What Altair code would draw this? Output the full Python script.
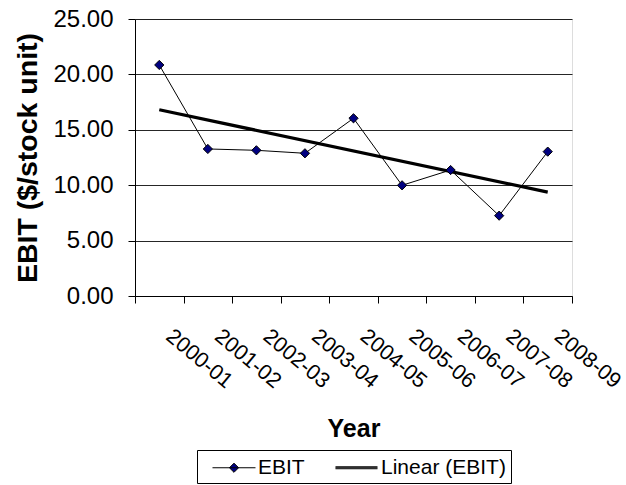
import json
import altair as alt
import pandas as pd

years = ["2000-01", "2001-02", "2002-03", "2003-04", "2004-05",
         "2005-06", "2006-07", "2007-08", "2008-09"]
ebit = [20.85, 13.27, 13.15, 12.88, 16.04, 9.99, 11.37, 7.25, 13.03]
series_names = ["EBIT", "Linear (EBIT)"]
y_ticks = [0, 5, 10, 15, 20, 25]

df = pd.DataFrame({"year": years, "ebit": ebit, "idx": list(range(len(years)))})
leg_df = pd.DataFrame({"series": series_names})

FONT = "Liberation Sans"

x_scale = alt.Scale(type="band", domain=years, paddingInner=0, paddingOuter=0)
x_axis = alt.Axis(
    title="Year", titleFontSize=25, titleFontWeight="bold", titleFont=FONT,
    titleColor="black", titleBaseline="alphabetic", titleY=140,
    labelFont=FONT, labelFontSize=21.5, labelColor="black",
    labelAngle=40, labelAlign="left", labelBaseline="top",
    labelOffset=16, labelPadding=22,
    tickBand="extent", tickSize=7, tickColor="black",
    domainColor="black", grid=False, labelOverlap=False,
)
y_axis = alt.Axis(
    title="EBIT ($/stock unit)", titleFontSize=28.5, titleFontWeight="bold",
    titleFont=FONT, titleColor="black", titleX=-108, titleBaseline="middle",
    values=y_ticks, format=".2f", labelFont=FONT, labelFontSize=24,
    labelColor="black", labelPadding=15, tickSize=7, tickColor="black",
    domainColor="black", gridColor="black", gridOpacity=0.85,
)

x_enc = alt.X("year:N", scale=x_scale, axis=x_axis)
y_enc = alt.Y("ebit:Q", scale=alt.Scale(domain=[0, 25], nice=False), axis=y_axis)

line = alt.Chart(df).mark_line(color="black", strokeWidth=1).encode(x=x_enc, y=y_enc)
pts = alt.Chart(df).mark_point(
    shape="diamond", filled=True, fill="#000080", stroke="black",
    strokeWidth=1, size=85, opacity=1,
).encode(x=x_enc, y=y_enc)

arr = json.dumps(years)
trend = alt.Chart(df).transform_regression(
    "idx", "ebit", method="linear"
).transform_calculate(year=f"{arr}[round(datum.idx)]").mark_line(
    color="black", strokeWidth=3.2
).encode(x=x_enc, y=y_enc)

# legend symbols (custom paths: line with diamond, thick line)
r = 12.0
x0 = -1 + 10 / r
x1 = x0 + 43 / r
xc = x0 + 21.5 / r
d = 4.6 / r
path_ebit = (f"M{x0:.3f},0H{x1:.3f}"
             f"M{xc:.3f},{-d:.3f}L{xc + d:.3f},0L{xc:.3f},{d:.3f}L{xc - d:.3f},0Z")
t = 1 / r
x1b = x0 + 42 / r
path_lin = (f"M{x0:.3f},{-t:.3f}H{x1b:.3f}M{x0:.3f},0H{x1b:.3f}"
            f"M{x0:.3f},{t:.3f}H{x1b:.3f}")


def make_legend():
    return alt.Legend(
        title=None, orient="none", legendX=62, legendY=431,
        direction="horizontal", symbolSize=r * r * 4,
        symbolStrokeWidth=1, symbolOpacity=1,
        labelFont=FONT, labelFontSize=21, labelColor="black",
        labelOffset=31, columnPadding=20, padding=5,
        strokeColor="black", fillColor="white",
    )


legend_layer = alt.Chart(leg_df).mark_point(
    filled=True, strokeWidth=1, clip=True, opacity=1, size=r * r * 4,
).encode(
    x=alt.value(-500), y=alt.value(-500),
    shape=alt.Shape(
        "series:N",
        scale=alt.Scale(domain=series_names, range=[path_ebit, path_lin]),
        legend=make_legend(),
    ),
    fill=alt.Fill(
        "series:N",
        scale=alt.Scale(domain=series_names, range=["#000080", "#000000"]),
        legend=make_legend(),
    ),
    stroke=alt.Stroke(
        "series:N",
        scale=alt.Scale(domain=series_names, range=["#000000", "#000000"]),
        legend=make_legend(),
    ),
)

chart = alt.layer(line, trend, pts, legend_layer).properties(
    width=437, height=277,
    autosize=alt.AutoSizeParams(type="none"),
    padding={"left": 135, "top": 19, "right": 54, "bottom": 189},
).configure_view(stroke=None).configure(background="white")

chart.save("out.html", embed_options={"renderer": "svg", "actions": False})
